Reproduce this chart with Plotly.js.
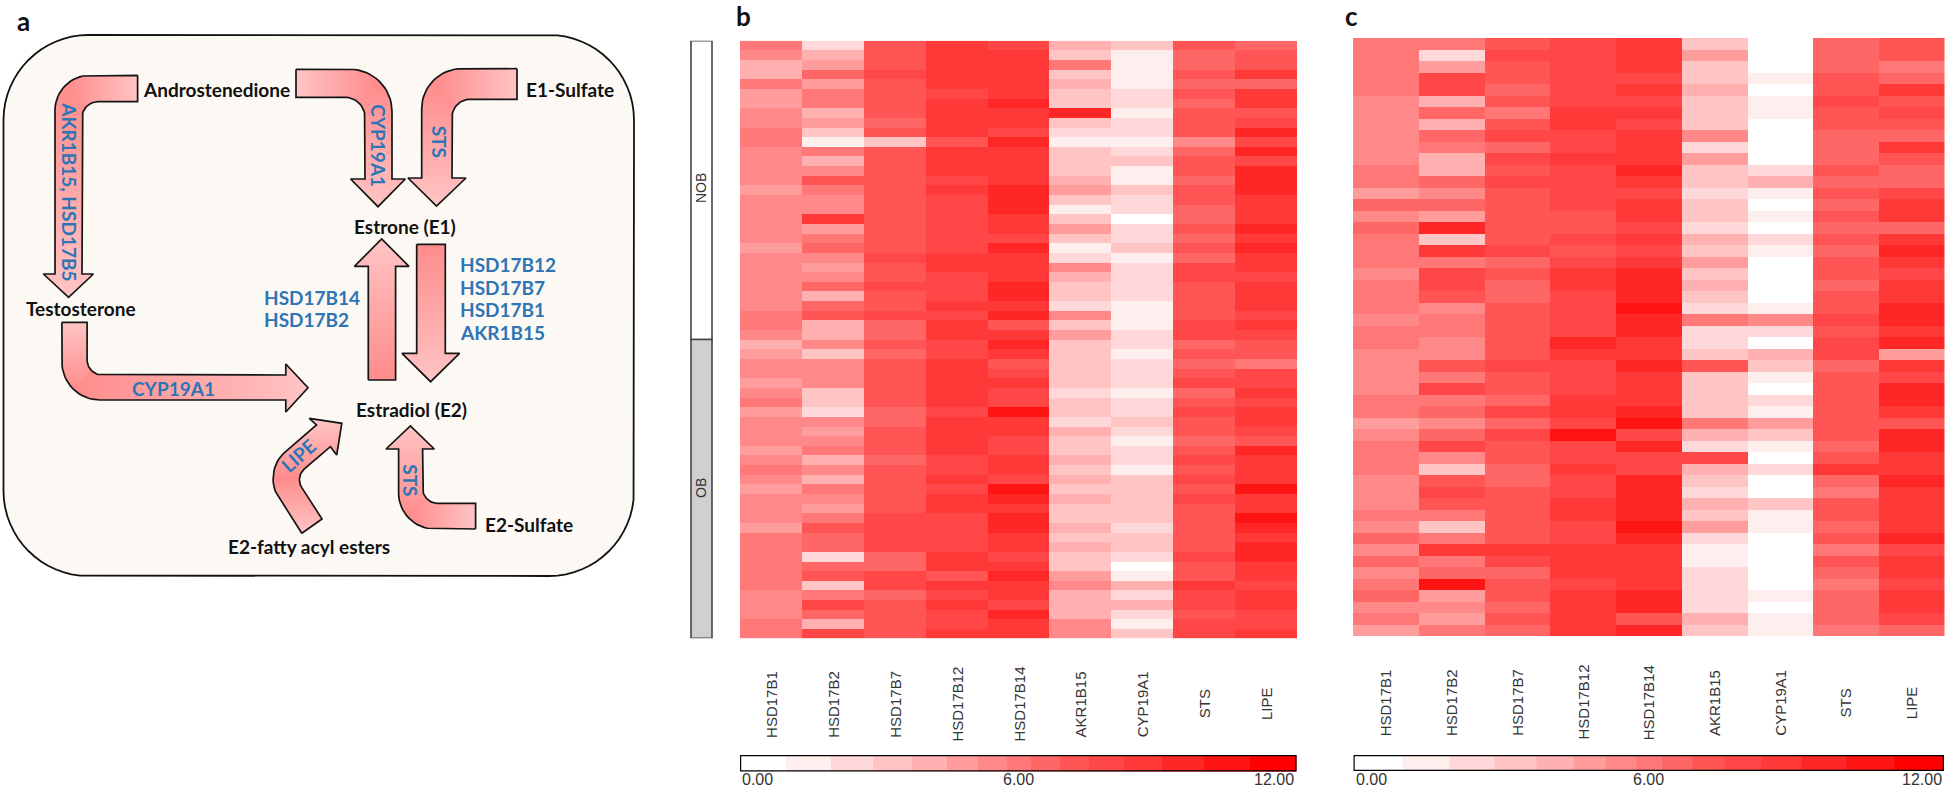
<!DOCTYPE html>
<html>
<head>
<meta charset="utf-8">
<script src="https://cdn.plot.ly/plotly-3.0.1.min.js"></script>
<style>html,body{margin:0;padding:0;background:#fff;overflow:hidden}</style>
</head>
<body>
<div id="chart" style="width:1946px;height:787px"></div>
<script>
var genes = ['HSD17B1', 'HSD17B2', 'HSD17B7', 'HSD17B12', 'HSD17B14', 'AKR1B15', 'CYP19A1', 'STS', 'LIPE'];

// colour key of the heatmaps, its bins are not of equal width
var binEdges = [0, 0.99, 1.96, 2.87, 3.71, 4.47, 5.13, 5.75, 6.28, 6.89, 7.53, 8.29, 9.11, 10.01, 11, 12];
var binValues = [0.5, 1.5, 2.4, 3.3, 4.1, 4.8, 5.4, 6, 6.6, 7.2, 7.9, 8.7, 9.6, 10.5, 11.5];
var binColors = ['#FFFFFF', '#FFEEEE', '#FFD9D9', '#FFC5C5', '#FFB0B0', '#FF9C9C', '#FF8888', '#FF7777', '#FF6666', '#FF5555', '#FF4747', '#FF3838', '#FF2626', '#FF1414', '#FF0000'];

// panel b, first 31 rows NOB, last 31 rows OB
var nobRows = 31;
var bHSD17B1 = [6,5.4,4.1,4.1,6,4.8,4.8,5.4,5.4,6,6,5.4,5.4,5.4,5.4,4.8,5.4,5.4,5.4,5.4,5.4,4.8,5.4,5.4,5.4,5.4,5.4,5.4,6,6,5.4,
    4.1,4.8,5.4,5.4,4.8,5.4,6,4.8,5.4,5.4,5.4,4.8,5.4,6,5.4,4.8,5.4,5.4,5.4,4.8,6,6,6,6,6,6,5.4,5.4,5.4,6,6];
var bHSD17B2 = [2.4,4.1,4.8,6.6,4.8,6,6,4.1,4.8,3.3,1.5,6,4.1,5.4,7.2,6,5.4,5.4,8.7,4.8,6,6.6,5.4,4.8,5.4,6.6,4.1,6.6,7.2,4.1,4.1,
    5.4,3.3,5.4,5.4,5.4,3.3,3.3,2.4,5.4,4.8,5.4,6,4.1,5.4,4.1,6,5.4,4.8,6,7.2,6.6,6.6,2.4,6.6,7.2,3.3,6,7.9,6.6,4.1,7.9];
var bHSD17B7 = [7.2,7.2,7.2,7.9,7.2,7.2,7.2,7.2,6.6,7.2,3.3,7.2,7.2,7.2,7.2,7.2,7.2,7.2,7.2,7.2,7.2,7.2,7.9,7.2,7.2,7.9,7.2,7.2,7.9,6.6,6.6,
    7.2,6.6,7.2,7.2,7.2,7.2,7.2,6.6,6.6,7.2,7.2,7.2,6.6,7.2,7.2,7.2,7.2,7.2,7.9,7.9,7.9,7.9,6.6,6.6,7.9,7.9,6.6,7.2,7.2,7.2,7.2];
var bHSD17B12 = [8.7,8.7,8.7,8.7,8.7,7.9,8.7,8.7,8.7,8.7,7.2,8.7,8.7,8.7,7.9,8.7,7.9,7.9,7.9,7.9,7.9,7.9,8.7,8.7,7.9,7.9,7.9,8.7,7.9,8.7,8.7,
    7.9,7.9,8.7,8.7,8.7,8.7,8.7,7.9,8.7,8.7,8.7,8.7,7.9,7.9,8.7,7.9,8.7,8.7,7.9,7.9,7.9,7.9,8.7,8.7,7.2,8.7,7.9,8.7,7.9,7.9,8.7];
var bHSD17B14 = [7.9,8.7,8.7,8.7,8.7,8.7,9.6,8.7,8.7,7.9,9.6,8.7,8.7,8.7,8.7,9.6,9.6,9.6,8.7,8.7,7.9,9.6,8.7,8.7,8.7,9.6,9.6,8.7,9.6,7.2,8.7,
    9.6,8.7,7.2,7.9,8.7,7.9,7.9,10.5,8.7,8.7,7.9,7.9,8.7,8.7,7.9,10.5,9.6,8.7,9.6,9.6,8.7,8.7,7.9,8.7,9.6,8.7,8.7,7.9,9.6,8.7,8.7];
var bAKR1B15 = [4.1,3.3,6,3.3,4.1,3.3,3.3,9.6,3.3,2.4,1.5,3.3,3.3,3.3,4.1,4.8,3.3,1.5,3.3,4.8,3.3,1.5,2.4,5.4,4.1,3.3,3.3,2.4,5.4,3.3,4.8,
    3.3,3.3,3.3,3.3,3.3,2.4,3.3,3.3,2.4,4.1,3.3,3.3,4.1,3.3,4.1,3.3,4.1,3.3,3.3,4.1,3.3,4.1,3.3,3.3,4.8,5.4,4.1,4.1,4.1,5.4,5.4];
var bCYP19A1 = [3.3,1.5,1.5,1.5,1.5,2.4,2.4,1.5,2.4,2.4,1.5,2.4,3.3,1.5,1.5,3.3,2.4,2.4,0.5,2.4,2.4,3.3,1.5,2.4,2.4,2.4,2.4,1.5,1.5,1.5,2.4,
    2.4,1.5,2.4,2.4,2.4,1.5,2.4,2.4,3.3,2.4,1.5,2.4,2.4,1.5,3.3,3.3,3.3,3.3,3.3,2.4,3.3,3.3,2.4,0.5,1.5,4.1,2.4,4.1,2.4,1.5,3.3];
var bSTS = [7.2,6.6,6.6,7.2,6.6,7.2,6.6,7.2,7.2,7.2,5.4,6.6,7.2,7.2,6.6,7.2,7.2,6.6,6.6,7.2,6.6,7.2,6.6,7.9,7.9,7.2,7.2,7.2,7.2,7.9,7.9,
    6.6,7.2,6.6,7.2,7.9,6.6,7.2,7.9,7.2,7.2,6.6,7.2,7.9,7.2,7.9,7.2,7.9,7.2,7.2,7.2,7.2,7.2,7.9,7.2,7.2,8.7,7.9,7.9,7.2,7.9,7.9];
var bLIPE = [6.6,7.2,7.2,8.7,6.6,8.7,8.7,7.2,7.9,9.6,7.9,9.6,7.9,9.6,9.6,9.6,8.7,8.7,8.7,9.6,8.7,9.6,8.7,8.7,7.9,8.7,8.7,8.7,7.9,8.7,7.9,
    7.2,7.2,6,7.9,7.9,8.7,7.9,8.7,8.7,7.9,7.2,9.6,8.7,8.7,8.7,10.5,8.7,8.7,10.5,9.6,8.7,9.6,9.6,8.7,8.7,7.9,8.7,8.7,7.9,7.9,8.7];

// panel c, 52 rows
var cHSD17B1 = [6,6,6,6,6,5.4,5.4,5.4,5.4,5.4,5.4,6,6,4.8,6.6,5.4,6.6,6,6,6,5.4,6,6,6,5.4,6,
    6,5.4,5.4,5.4,5.4,6,6,4.8,5.4,6,6,6,5.4,5.4,5.4,6,5.4,6.6,5.4,6.6,5.4,6,6.6,5.4,6,4.8];
var cHSD17B2 = [6,2.4,4.8,7.9,7.9,4.1,6.6,4.1,6.6,6,4.1,4.1,6.6,5.4,6.6,4.8,9.6,3.3,8.7,6,7.9,7.9,7.2,5.4,6,6,
    5.4,5.4,7.2,6,7.9,6,6.6,5.4,6.6,7.9,5.4,3.3,7.2,7.9,7.2,6,3.3,6,8.7,6,6.6,10.5,4.8,5.4,4.8,6];
var cHSD17B7 = [7.2,7.9,7.2,7.2,6.6,7.2,6,7.2,7.9,6.6,7.9,7.2,7.9,7.2,7.2,7.2,7.2,7.2,7.9,6.6,7.2,6.6,6.6,7.2,7.2,7.2,
    7.2,7.2,7.9,7.2,7.2,6.6,7.9,6.6,7.9,7.2,7.2,6.6,6.6,7.2,7.2,7.2,7.2,7.2,8.7,7.9,6.6,7.2,7.2,6.6,7.2,6.6];
var cHSD17B12 = [7.9,7.9,7.9,7.9,7.9,7.9,8.7,8.7,7.9,7.9,8.7,7.9,7.9,7.9,7.9,7.2,7.2,7.9,7.2,7.9,8.7,8.7,7.9,7.9,7.9,7.9,
    9.6,8.7,7.9,7.9,7.9,8.7,8.7,7.9,10.5,7.9,7.9,8.7,7.9,7.9,8.7,8.7,7.9,7.9,8.7,8.7,8.7,7.9,8.7,8.7,8.7,8.7];
var cHSD17B14 = [8.7,8.7,8.7,7.9,8.7,7.9,8.7,7.9,8.7,8.7,8.7,9.6,8.7,7.9,8.7,8.7,7.9,8.7,7.9,8.7,9.6,9.6,9.6,10.5,9.6,9.6,
    8.7,8.7,9.6,8.7,8.7,8.7,9.6,10.5,7.9,9.6,7.9,7.9,9.6,9.6,9.6,9.6,10.5,9.6,8.7,8.7,8.7,8.7,9.6,9.6,7.2,9.6];
var cAKR1B15 = [3.3,4.8,3.3,3.3,4.1,3.3,3.3,3.3,5.4,2.4,4.8,3.3,3.3,2.4,3.3,3.3,2.4,4.1,3.3,4.8,3.3,4.1,3.3,2.4,6,2.4,
    2.4,3.3,7.2,3.3,3.3,3.3,3.3,6,4.1,2.4,7.9,4.1,3.3,2.4,4.1,3.3,4.8,2.4,1.5,1.5,2.4,2.4,2.4,2.4,4.1,3.3];
var cCYP19A1 = [0.5,0.5,0.5,1.5,0.5,1.5,1.5,0.5,0.5,0.5,0.5,2.4,4.1,1.5,0.5,1.5,0.5,2.4,1.5,0.5,0.5,0.5,0.5,1.5,5.4,2.4,
    0.5,4.1,3.3,1.5,0.5,2.4,1.5,4.8,3.3,1.5,0.5,2.4,0.5,0.5,3.3,1.5,1.5,0.5,0.5,0.5,0.5,0.5,1.5,0.5,1.5,1.5];
var cSTS = [6.6,6.6,6.6,7.2,7.2,7.9,7.2,7.2,6.6,6.6,6.6,7.2,6.6,7.2,6.6,7.2,6.6,7.2,6.6,7.2,7.2,6.6,7.2,7.2,7.9,7.2,
    7.9,7.9,6.6,7.2,7.2,7.2,7.2,7.2,7.2,6.6,7.2,8.7,6.6,6,7.2,7.2,6.6,7.2,6,7.2,6.6,6,6.6,6.6,6.6,6];
var cLIPE = [7.2,7.2,6,6.6,8.7,7.2,7.9,7.2,6.6,8.7,7.2,6.6,6.6,7.9,8.7,8.7,6.6,8.7,9.6,8.7,7.9,8.7,8.7,9.6,9.6,8.7,
    9.6,4.8,8.7,7.9,9.6,9.6,8.7,7.2,9.6,9.6,8.7,8.7,9.6,8.7,8.7,8.7,8.7,9.6,7.9,8.7,8.7,7.9,8.7,8.7,7.9,6.6];

var panelB = [bHSD17B1, bHSD17B2, bHSD17B7, bHSD17B12, bHSD17B14, bAKR1B15, bCYP19A1, bSTS, bLIPE];
var panelC = [cHSD17B1, cHSD17B2, cHSD17B7, cHSD17B12, cHSD17B14, cAKR1B15, cCYP19A1, cSTS, cLIPE];

// pathway drawing of panel a, in page pixels: [x, y, corner radius]
var DEEP = '#FF8C8C', LIGHT = '#FFC4C4';
var arrows = [
    {pts: [[137.6,75.3],[55,75.3,35],[55,274],[43.4,274],[68.6,297.3],[93.4,274],[82,274],[82,101.7,16],[137.6,101.7]],
        tail: ['horizontal', 68, 137.6], head: ['vertical', 88, 297]},
    {pts: [[296,69.3],[392,69.3,42],[392,179],[405.3,179],[378,206.7],[350.6,179],[365,179],[365,97.3,20],[296,97.3]],
        tail: ['horizontal', 375, 296], head: ['vertical', 85, 207]},
    {pts: [[517,68.7],[421.7,68.7,40],[421.7,178],[408,178],[436.5,206],[466,178],[452,178],[452,99.3,18],[517,99.3]],
        tail: ['horizontal', 436, 517], head: ['vertical', 85, 206]},
    {pts: [[61.9,322.3],[61.9,400,38],[285.8,400],[285.8,412],[308,387.7],[285.8,364],[285.8,375],[87.1,375,15],[87.1,322.3]],
        tail: ['vertical', 388, 322], head: ['horizontal', 75, 308]},
    {pts: [[475.6,529],[398.6,529,36],[398.6,449],[386,449],[410.4,426],[434.3,449],[422.6,449],[422.6,503.3,15],[475.6,503.3]],
        tail: ['horizontal', 410, 475.6], head: ['vertical', 516, 426]},
    {pts: [[301.8,533.3],[262,472,30],[316.5,425],[309.3,418.3],[341.8,423.3],[336.7,455],[330.4,446.7],[295,477,12],[322,519]],
        tail: ['vertical', 478, 533], head: ['vertical', 478, 420]},
    {pts: [[368.3,380],[368.3,266.3],[354.4,266.3],[381.7,239],[409,266.3],[395.6,266.3],[395.6,380]],
        whole: ['vertical', 380, 239]},
    {pts: [[416.7,244.3],[416.7,353.3],[402,353.3],[430.6,381.7],[459.6,353.3],[445.3,353.3],[445.3,244.3]],
        whole: ['vertical', 244, 382]}
];

var blackLabels = [
    ['Androstenedione', 142, 89, 'left'], ['E1-Sulfate', 525, 89, 'left'], ['Estrone (E1)', 353, 226, 'left'],
    ['Testosterone', 25, 308, 'left'], ['Estradiol (E2)', 355, 409, 'left'],
    ['E2-fatty acyl esters', 227, 546, 'left'], ['E2-Sulfate', 484, 524, 'left']
];
var blueLabels = [
    ['HSD17B12', 459, 264, 0, 'left'], ['HSD17B7', 459, 287, 0, 'left'], ['HSD17B1', 459, 309, 0, 'left'], ['AKR1B15', 459, 332, 0, 'left'],
    ['HSD17B14', 263, 297, 0, 'left'], ['HSD17B2', 263, 319, 0, 'left'],
    ['AKR1B15, HSD17B5', 69.4, 191.7, 90, 'center'], ['CYP19A1', 378.8, 146, 90, 'center'], ['STS', 439, 141.7, 90, 'center'],
    ['CYP19A1', 173, 388.3, 0, 'center'], ['LIPE', 298, 455, -42, 'center'], ['STS', 410.4, 480.7, 90, 'center']
];

// rounds the marked corners, mids keeps the middle point of each corner
function outline(pts) {
    var xs = [], ys = [], mids = [];
    pts.forEach(function (p, i) {
        if (!p[2]) {
            xs.push(p[0]);
            ys.push(p[1]);
            mids.push(xs.length - 1);
            return;
        }
        var a = pts[(i + pts.length - 1) % pts.length], b = pts[(i + 1) % pts.length];
        var la = Math.hypot(a[0] - p[0], a[1] - p[1]), lb = Math.hypot(b[0] - p[0], b[1] - p[1]);
        var ua = [(a[0] - p[0]) / la, (a[1] - p[1]) / la], ub = [(b[0] - p[0]) / lb, (b[1] - p[1]) / lb];
        var r = p[2];
        for (var k = 0; k <= 16; k++) {
            var t = k / 16, s = 1 - t;
            var c0 = s * s * s + 3 * s * s * t * 0.45, c1 = t * t * t + 3 * s * t * t * 0.45;
            xs.push(p[0] + r * (c0 * ua[0] + c1 * ub[0]));
            ys.push(p[1] + r * (c0 * ua[1] + c1 * ub[1]));
            if (k === 8) mids.push(xs.length - 1);
        }
    });
    return {xs: xs, ys: ys, mids: mids};
}

function fillTrace(xs, ys, grad) {
    return {
        type: 'scatter', mode: 'lines', x: xs, y: ys, fill: 'toself', hoverinfo: 'skip', showlegend: false,
        line: {width: 0},
        fillgradient: {type: grad[0], start: grad[1], stop: grad[2], colorscale: [[0, DEEP], [1, LIGHT]]}
    };
}

var data = [];

var box = outline([[3.5, 35, 85], [634, 35, 85], [634, 576, 85], [3.5, 576, 85]]);
data.push({
    type: 'scatter', mode: 'lines', x: box.xs.concat(box.xs[0]), y: box.ys.concat(box.ys[0]), fill: 'toself',
    fillcolor: '#FCF9F4', line: {color: '#111', width: 1.8}, hoverinfo: 'skip', showlegend: false
});

arrows.forEach(function (a) {
    var o = outline(a.pts);
    if (a.whole) {
        data.push(fillTrace(o.xs, o.ys, a.whole));
    } else {
        var outer = o.mids[1], inner = o.mids[7];
        // solid under the two gradient pieces so that the seam does not show
        data.push({type: 'scatter', mode: 'lines', x: o.xs, y: o.ys, fill: 'toself', fillcolor: DEEP, line: {width: 0}, hoverinfo: 'skip', showlegend: false});
        data.push(fillTrace(o.xs.slice(outer, inner + 1), o.ys.slice(outer, inner + 1), a.head));
        data.push(fillTrace(o.xs.slice(inner).concat(o.xs.slice(0, outer + 1)), o.ys.slice(inner).concat(o.ys.slice(0, outer + 1)), a.tail));
    }
    data.push({
        type: 'scatter', mode: 'lines', x: o.xs.concat(o.xs[0]), y: o.ys.concat(o.ys[0]),
        line: {color: '#151515', width: 1.7}, hoverinfo: 'skip', showlegend: false
    });
});

var colorscale = [];
binColors.forEach(function (c, i) {
    colorscale.push([binEdges[i] / 12, c]);
    colorscale.push([binEdges[i + 1] / 12, c]);
});

function rowsOf(columns) {
    return columns[0].map(function (v, r) {
        return columns.map(function (col) { return col[r]; });
    });
}

function heat(columns, xa, ya) {
    return {
        type: 'heatmap', x: genes, z: rowsOf(columns), xaxis: xa, yaxis: ya,
        zmin: 0, zmax: 12, colorscale: colorscale, showscale: false, hoverinfo: 'skip'
    };
}

function keyBar(xa, ya) {
    return {
        type: 'heatmap', x: binEdges, y: [0, 1], z: [binValues], xaxis: xa, yaxis: ya,
        zmin: 0, zmax: 12, colorscale: colorscale, showscale: false, hoverinfo: 'skip'
    };
}

data.push(heat(panelB, 'x2', 'y2'));
data.push(heat(panelC, 'x3', 'y3'));
data.push(keyBar('x4', 'y4'));
data.push(keyBar('x5', 'y5'));

var W = 1946, H = 787;
function xDom(a, b) { return {domain: [a / W, b / W], visible: false, fixedrange: true}; }
function yDom(a, b) { return {domain: [1 - b / H, 1 - a / H], visible: false, fixedrange: true}; }

var yB = yDom(40.7, 638.3);
yB.range = [bHSD17B1.length - 0.5, -0.5];
var yC = yDom(38, 636);
yC.range = [cHSD17B1.length - 0.5, -0.5];
var xKeyB = xDom(740, 1296.5), xKeyC = xDom(1353.5, 1944);
xKeyB.range = [0, 12];
xKeyC.range = [0, 12];
var yKeyB = yDom(755, 771.5), yKeyC = yDom(755, 771);
yKeyB.range = [0, 1];
yKeyC.range = [0, 1];

var annotations = [];
function note(text, x, y, xref, yref, size, color, family, extra) {
    var a = {
        text: text, x: x, y: y, xref: xref, yref: yref, showarrow: false, borderpad: 0,
        font: {size: size, color: color, family: family}, xanchor: 'center', yanchor: 'middle'
    };
    for (var k in extra) a[k] = extra[k];
    annotations.push(a);
}

var LATO = 'Lato, sans-serif', ARIAL = '"Liberation Sans", Arial, sans-serif';
var letterFont = {size: 26, color: '#111', family: LATO, weight: 700};
note('a', 23, 21, 'x', 'y', 26, '#111', LATO, {font: letterFont});
note('b', 743, 16, 'x', 'y', 26, '#111', LATO, {font: letterFont});
note('c', 1351, 16, 'x', 'y', 26, '#111', LATO, {font: letterFont});

blackLabels.forEach(function (t) {
    note(t[0], t[1], t[2], 'x', 'y', 19, '#111', LATO, {xanchor: t[3], font: {size: 19, color: '#111', family: LATO, weight: 700}});
});
blueLabels.forEach(function (t) {
    note(t[0], t[1], t[2], 'x', 'y', 19, '#2E75B6', LATO, {xanchor: t[4], textangle: t[3], font: {size: 19, color: '#2E75B6', family: LATO, weight: 700}});
});

genes.forEach(function (g, i) {
    note(g, i, 704, 'x2', 'y', 15, '#333', ARIAL, {textangle: -90});
    note(g, i, 702.5, 'x3', 'y', 15, '#333', ARIAL, {textangle: -90});
});

note('NOB', 701, 188, 'x', 'y', 14, '#333', ARIAL, {textangle: -90});
note('OB', 701, 488, 'x', 'y', 14, '#333', ARIAL, {textangle: -90});

[['x4', 741, 1018.5, 1295], ['x5', 1354.5, 1648.5, 1943]].forEach(function (k) {
    note('0.00', k[1], 779, 'x', 'y', 16, '#333', ARIAL, {xanchor: 'left'});
    note('6.00', k[2], 779, 'x', 'y', 16, '#333', ARIAL);
    note('12.00', k[3], 779, 'x', 'y', 16, '#333', ARIAL, {xanchor: 'right'});
});

var shapes = [
    {type: 'rect', xref: 'x', yref: 'y2', x0: 691, x1: 712, y0: -0.5, y1: nobRows - 0.5, fillcolor: '#FFFFFF', line: {color: '#444', width: 1.6}},
    {type: 'rect', xref: 'x', yref: 'y2', x0: 691, x1: 712, y0: nobRows - 0.5, y1: bHSD17B1.length - 0.5, fillcolor: '#D0D0D0', line: {color: '#444', width: 1.6}},
    {type: 'rect', xref: 'x4', yref: 'y4', x0: 0, x1: 12, y0: 0, y1: 1, line: {color: '#000', width: 2.4}},
    {type: 'rect', xref: 'x5', yref: 'y5', x0: 0, x1: 12, y0: 0, y1: 1, line: {color: '#000', width: 2.4}}
];

var layout = {
    width: W, height: H, margin: {l: 0, r: 0, t: 0, b: 0}, paper_bgcolor: '#fff', plot_bgcolor: 'rgba(0,0,0,0)',
    showlegend: false, dragmode: false,
    xaxis: {domain: [0, 1], range: [0, W], visible: false, fixedrange: true},
    yaxis: {domain: [0, 1], range: [H, 0], visible: false, fixedrange: true},
    xaxis2: xDom(740, 1297), yaxis2: yB,
    xaxis3: xDom(1353, 1944.5), yaxis3: yC,
    xaxis4: xKeyB, yaxis4: yKeyB,
    xaxis5: xKeyC, yaxis5: yKeyC,
    annotations: annotations, shapes: shapes
};

Plotly.newPlot('chart', data, layout, {displayModeBar: false, staticPlot: true});
</script>
</body>
</html>
